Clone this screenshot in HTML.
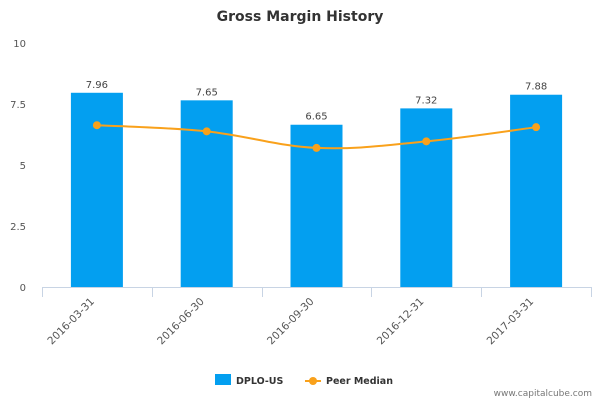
<!DOCTYPE html>
<html><head><meta charset="utf-8"><style>
body{margin:0;background:#fff;font-family:"Liberation Sans","DejaVu Sans",sans-serif}
svg text{font-family:"DejaVu Sans","Liberation Sans",sans-serif}
</style></head><body>
<svg id="chart" width="600" height="400">
<text x="300" y="21" text-anchor="middle" font-size="14" font-weight="bold" fill="#333">Gross Margin History</text>
<g id="yaxis"></g><g id="bars"></g><g id="line"></g><g id="xaxis"></g>
<g>
<rect x="215" y="374" width="16" height="11" fill="#039ff0"/>
<text x="236" y="384" font-size="9.5" font-weight="bold" fill="#333">DPLO-US</text>
<line x1="305" y1="381" x2="321" y2="381" stroke="#f9a11b" stroke-width="2"/>
<circle cx="313" cy="381" r="4" fill="#f9a11b"/>
<text x="326" y="384" font-size="9.5" font-weight="bold" fill="#333">Peer Median</text>
</g>
<text x="592" y="396" text-anchor="end" font-size="9" fill="#777">www.capitalcube.com</text>
</svg>
<script>
const categories=["2016-03-31","2016-06-30","2016-09-30","2016-12-31","2017-03-31"];
const companyValues=[7.96,7.65,6.65,7.32,7.88];
const peerValues=[6.63,6.38,5.70,5.97,6.55];
const yTicks=[0,2.5,5,7.5,10];
const yTickLabels=["0","2.5","5","7.5","10"];
const NS="http://www.w3.org/2000/svg";
const x0=42,x1=591,yBase=287,yTop=43,yMax=10;
const band=(x1-x0)/categories.length;
const xc=i=>x0+band*(i+0.5);
const y=v=>yBase-(v/yMax)*(yBase-yTop);
function mk(t,a,p){const e=document.createElementNS(NS,t);for(const k in a)e.setAttribute(k,a[k]);p.appendChild(e);return e;}
const ya=document.getElementById('yaxis');
yTicks.forEach((v,i)=>{const t=mk('text',{x:26,y:y(v)+4,'text-anchor':'end','font-size':10,fill:'#555'},ya);t.textContent=yTickLabels[i];

});
const xa=document.getElementById('xaxis');
const ax=mk('line',{x1:x0,y1:yBase+0.5,x2:x1,y2:yBase+0.5,stroke:'#c8d4e4'},xa);


for(let i=0;i<=categories.length;i++){const tx=Math.round(x0+band*i)+0.5;const tk=mk('line',{x1:tx,y1:yBase,x2:tx,y2:yBase+10,stroke:'#c8d4e4'},xa);

}
const bg=document.getElementById('bars');
categories.forEach((c,i)=>{
const cx=xc(i);
const r=mk('rect',{x:cx-26,y:y(companyValues[i]),width:52,height:yBase-y(companyValues[i]),fill:'#039ff0'},bg);


const l=mk('text',{x:cx,y:y(companyValues[i])-5,'text-anchor':'middle','font-size':10,fill:'#444'},bg);l.textContent=companyValues[i].toFixed(2);


const xl=mk('text',{x:0,y:0,'text-anchor':'end','font-size':10.5,fill:'#555',transform:`translate(${cx-2},${yBase+15}) rotate(-45)`},xa);xl.textContent=c;


});
const lg=document.getElementById('line');
const pts=peerValues.map((v,i)=>[xc(i),y(v)]);
let d=`M${pts[0][0]},${pts[0][1]}`;
for(let i=0;i<pts.length-1;i++){const p0=pts[Math.max(0,i-1)],p1=pts[i],p2=pts[i+1],p3=pts[Math.min(pts.length-1,i+2)];const k=0.18;
d+=` C${p1[0]+(p2[0]-p0[0])*k},${p1[1]+(p2[1]-p0[1])*k} ${p2[0]-(p3[0]-p1[0])*k},${p2[1]-(p3[1]-p1[1])*k} ${p2[0]},${p2[1]}`;}
const pl=mk('path',{d:d,fill:'none',stroke:'#f9a11b','stroke-width':2},lg);


pts.forEach(p=>{const m=mk('circle',{cx:p[0],cy:p[1],r:4,fill:'#f9a11b'},lg);

});
</script>
</body></html>
